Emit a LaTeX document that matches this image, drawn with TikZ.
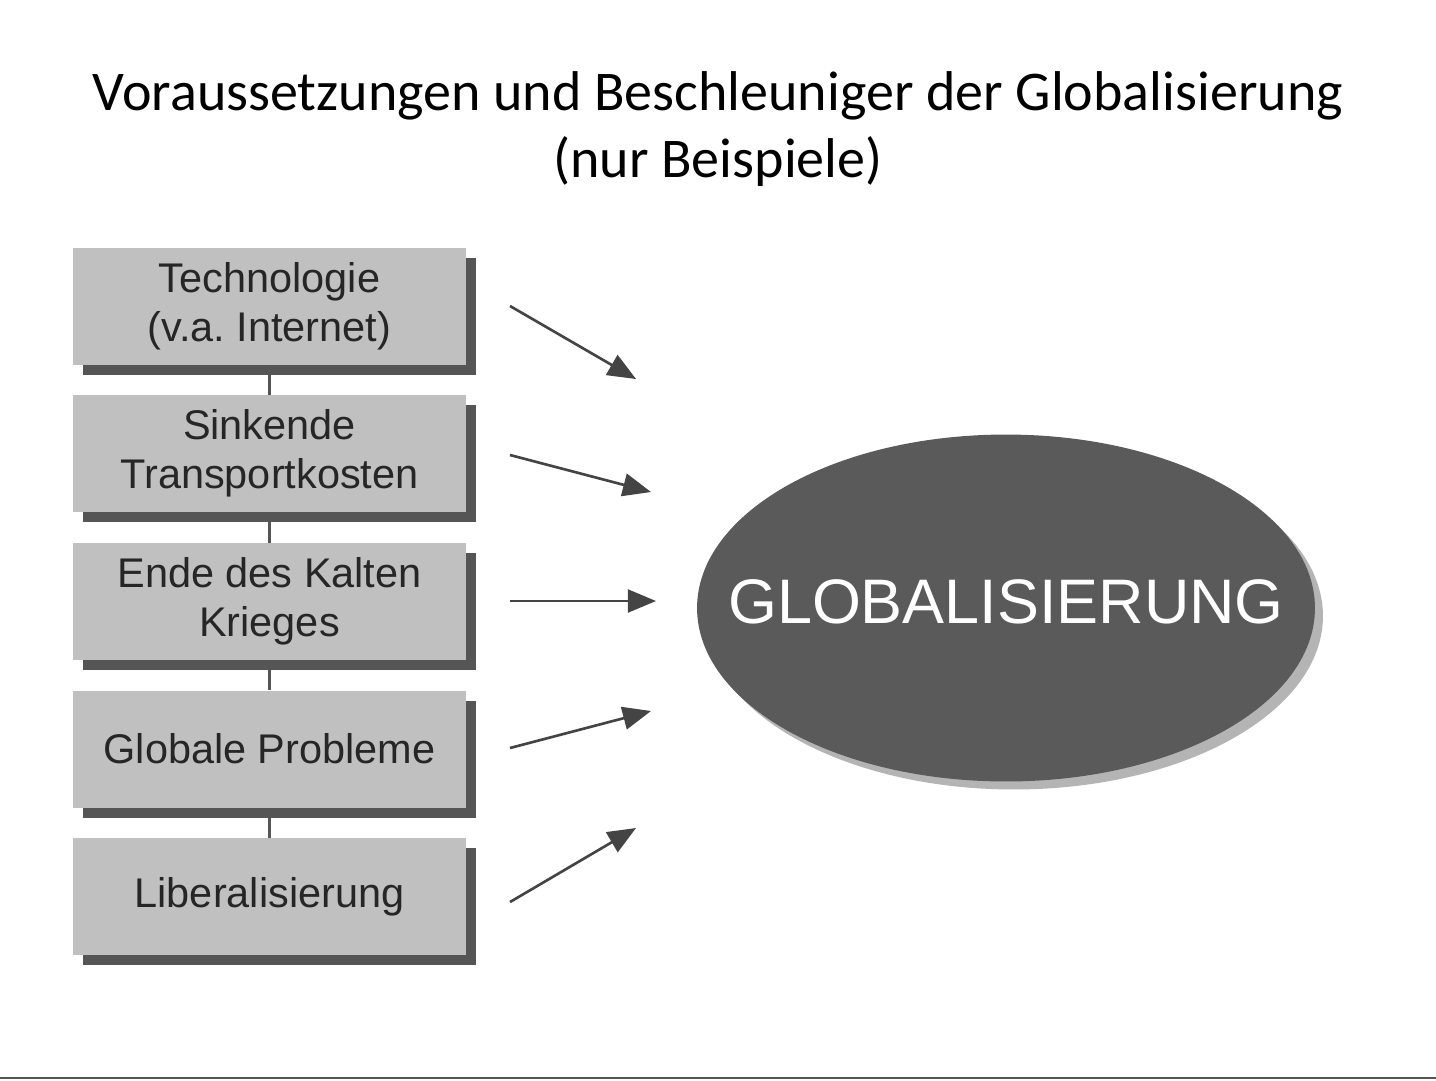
\documentclass[tikz,border=0pt]{standalone}
\usepackage{fontspec}
\setmainfont{Carlito}
\newfontfamily\arialfont{Liberation Sans}
\usetikzlibrary{arrows.meta,shadows,shapes.geometric}
\definecolor{boxgray}{HTML}{C0C0C0}
\definecolor{shadegray}{HTML}{555555}
\definecolor{ovalgray}{HTML}{5A5A5A}
\definecolor{ovalshade}{HTML}{B4B4B4}
\definecolor{arrowgray}{HTML}{444444}
\frenchspacing
\begin{document}
\begin{tikzpicture}[x=0.02cm,y=-0.02cm,
  cause/.style={fill=boxgray, minimum width=7.86cm, minimum height=2.34cm, inner sep=0pt,
    align=center, font=\arialfont\fontsize{23.6}{28}\selectfont, text=black!85,
    general shadow={fill=shadegray, shadow xshift=0.2cm, shadow yshift=-0.2cm}},
  link/.style={draw=shadegray, line width=1.6pt},
  push/.style={draw=arrowgray, line width=1.5pt, -{Triangle[length=16pt,width=13pt]}}]
\useasboundingbox (0,0) rectangle (1436,1080);
\fill[white] (0,0) rectangle (1436,1080);
\node[anchor=base, font=\fontsize{31.9}{38}\selectfont] (t1) at (718,110) {Voraussetzungen und Beschleuniger der Globalisierung};
\node[anchor=base, font=\fontsize{31.9}{38}\selectfont] (t2) at (718,177) {(nur Beispiele)};
\node[cause] (1) at (269.5,306.5) {Technologie\\(v.a. Internet)};
\node[cause] (2) at (269.5,453.5) {Sinkende\\Transportkosten};
\node[cause] (3) at (269.5,601.5) {Ende des Kalten\\Krieges};
\node[cause] (4) at (269.5,749) {Globale Probleme};
\node[cause] (5) at (269.5,896.5) {Liberalisierung};
\node[ellipse, fill=ovalgray, minimum width=12.36cm, minimum height=6.94cm, inner sep=0pt,
  general shadow={fill=ovalshade, shadow xshift=0.16cm, shadow yshift=-0.16cm},
  label={[text=white, yshift=0.12cm, font=\arialfont\fontsize{35.8}{40}\selectfont]center:GLOBALISIERUNG}] (g) at (1006,608) {};
\path[link] (1.south) -- (2.north);
\path[link] (2.south) -- (3.north);
\path[link] (3.south) -- (4.north);
\path[link] (4.south) -- (5.north);
\coordinate (a1) at (510,306); \coordinate (b1) at (636,379);
\coordinate (a2) at (510,455); \coordinate (b2) at (651,492);
\coordinate (a3) at (510,601); \coordinate (b3) at (656,601);
\coordinate (a4) at (510,748); \coordinate (b4) at (651,711);
\coordinate (a5) at (510,902); \coordinate (b5) at (636,828);
\path[push] (a1) -- (b1);
\path[push] (a2) -- (b2);
\path[push] (a3) -- (b3);
\path[push] (a4) -- (b4);
\path[push] (a5) -- (b5);
\draw[shadegray, line width=1.2pt] (0,1078) -- (1436,1078);
\end{tikzpicture}
\end{document}
